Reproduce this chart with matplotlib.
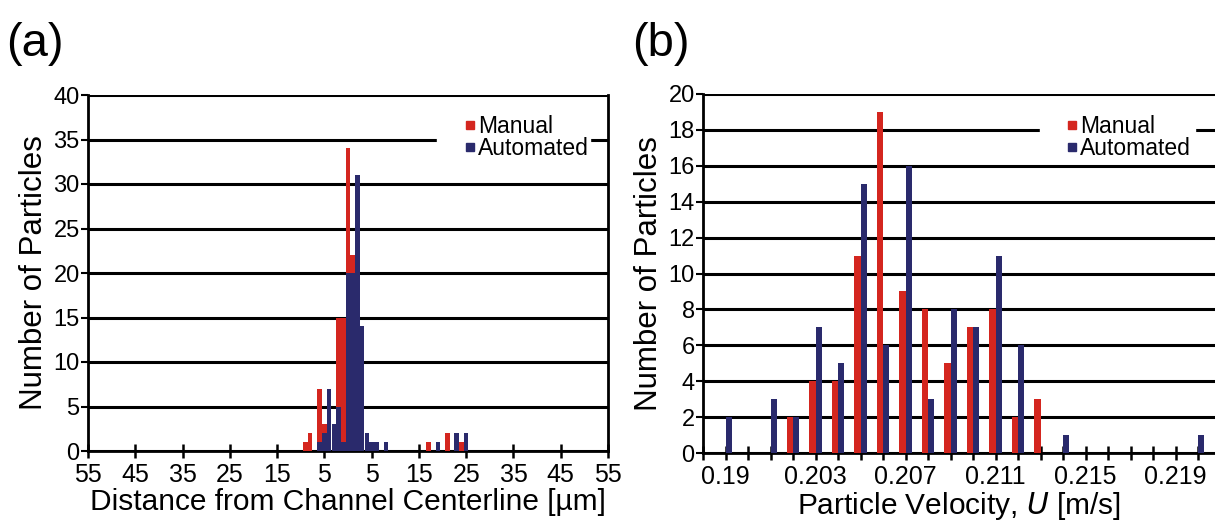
import matplotlib.pyplot as plt
from matplotlib.lines import Line2D
from matplotlib.patches import Rectangle
import numpy as np

plt.rcParams['font.family'] = ['Liberation Sans', 'DejaVu Sans']

RED = "#d4261f"
NAVY = "#2a2a6c"

# Panel (a): distance from channel centerline histogram (bin centre in um : count)
dist_manual_x = [-9, -8, -6, -5, -2, -1, 0, 1, 17, 21, 24]
dist_manual_n = [1, 2, 7, 3, 15, 15, 34, 22, 1, 2, 1]
dist_auto_x = [-6, -5, -4, -3, -2, -1, 0, 1, 2, 3, 4, 5, 6, 8, 19, 23, 25]
dist_auto_n = [1, 2, 7, 3, 5, 1, 20, 20, 31, 14, 2, 1, 1, 1, 1, 2, 2]
dist_ticks = [-55, -45, -35, -25, -15, -5, 5, 15, 25, 35, 45, 55]

# Panel (b): particle velocity histogram
vel_bins = [0.199, 0.200, 0.201, 0.202, 0.203, 0.204, 0.205, 0.206, 0.207, 0.208, 0.209,
            0.210, 0.211, 0.212, 0.213, 0.214, 0.215, 0.216, 0.217, 0.218, 0.219, 0.220]
vel_manual = [0, 0, 0, 2, 4, 4, 11, 19, 9, 8, 5, 7, 8, 2, 3, 0, 0, 0, 0, 0, 0, 0]
vel_auto = [2, 0, 3, 2, 7, 5, 15, 6, 16, 3, 8, 7, 11, 6, 0, 1, 0, 0, 0, 0, 0, 1]
vel_label_pos = [0.199, 0.203, 0.207, 0.211, 0.215, 0.219]
vel_labels = ["0.19", "0.203", "0.207", "0.211", "0.215", "0.219"]

fig = plt.figure(figsize=(12.15, 5.23), dpi=100)
W, H = 1215, 523


def add_axes(l, r, t, b):
    return fig.add_axes([l / W, 1 - b / H, (r - l) / W, (b - t) / H])


def style(ax):
    for s in ("top", "right"):
        ax.spines[s].set_visible(False)
    ax.spines["left"].set_linewidth(2)
    ax.spines["bottom"].set_linewidth(2)
    ax.tick_params(axis="y", direction="out", length=5, width=1.5, labelsize=17, pad=1)
    ax.tick_params(axis="x", direction="inout", length=10, width=1.8, labelsize=18, pad=4)
    ax.set_axisbelow(True)
    ax.yaxis.grid(True, color="black", lw=2.2)


def legend(ax, x0, x1, mx):
    # white strip breaking the gridline behind the legend
    ax.add_patch(Rectangle((x0 / W, 1 - 160 / H), (x1 - x0) / W, 42 / H,
                           transform=fig.transFigure, color="white", zorder=2, clip_on=False))
    handles = [Line2D([], [], ls="", marker="s", ms=6, color=RED),
               Line2D([], [], ls="", marker="s", ms=6, color=NAVY)]
    leg = ax.legend(handles, ["Manual", "Automated"], loc="upper left",
                    bbox_to_anchor=(mx / W, 1 - 115 / H), bbox_transform=fig.transFigure,
                    frameon=False, fontsize=16.5, handlelength=0.5, handletextpad=0.1,
                    labelspacing=-0.05, borderpad=0, borderaxespad=0)
    leg.set_zorder(5)


# ---- (a)
ax1 = add_axes(88, 608, 95, 451)
style(ax1)
ax1.bar(dist_manual_x, dist_manual_n, width=0.95, color=RED, zorder=3)
ax1.bar(dist_auto_x, dist_auto_n, width=0.95, color=NAVY, zorder=3)
ax1.set_xlim(-55, 55)
ax1.set_ylim(0, 40)
ax1.set_yticks(np.arange(0, 41, 5))
ax1.set_xticks(dist_ticks)
ax1.set_xticklabels([str(abs(v)) for v in dist_ticks])
ax1.axvline(55, color="black", lw=2, clip_on=False)
ax1.set_xlabel("Distance from Channel Centerline [\u00b5m]", fontsize=21.5, labelpad=0)
ax1.set_ylabel("Number of Particles", fontsize=22.5, labelpad=3)
legend(ax1, 437, 590, 464)
fig.text(6 / W, 1 - 56 / H, "(a)", fontsize=34)

# ---- (b)
ax2 = add_axes(703, 1215, 94, 453)
style(ax2)
bw = 0.00028
ax2.bar(vel_bins, vel_manual, width=-bw, align="edge", color=RED, zorder=3)
ax2.bar(vel_bins, vel_auto, width=bw, align="edge", color=NAVY, zorder=3)
ax2.set_xlim(0.198, 0.198 + (1215 - 703) / 22.5 * 0.001)
ax2.set_ylim(0, 20)
ax2.set_yticks(np.arange(0, 21, 2))
xt = np.round(np.arange(0.198, 0.2205, 0.001), 3)
lab = dict(zip(vel_label_pos, vel_labels))
ax2.set_xticks(xt)
ax2.set_xticklabels([lab.get(v, "") for v in xt])
ax2.set_xlabel("Particle Velocity, $\\mathit{U}$ [m/s]", fontsize=21.5, labelpad=0)
ax2.set_ylabel("Number of Particles", fontsize=22.5, labelpad=3)
legend(ax2, 1040, 1195, 1066)
fig.text(632 / W, 1 - 56 / H, "(b)", fontsize=34)

fig.savefig("out.png", dpi=100)
